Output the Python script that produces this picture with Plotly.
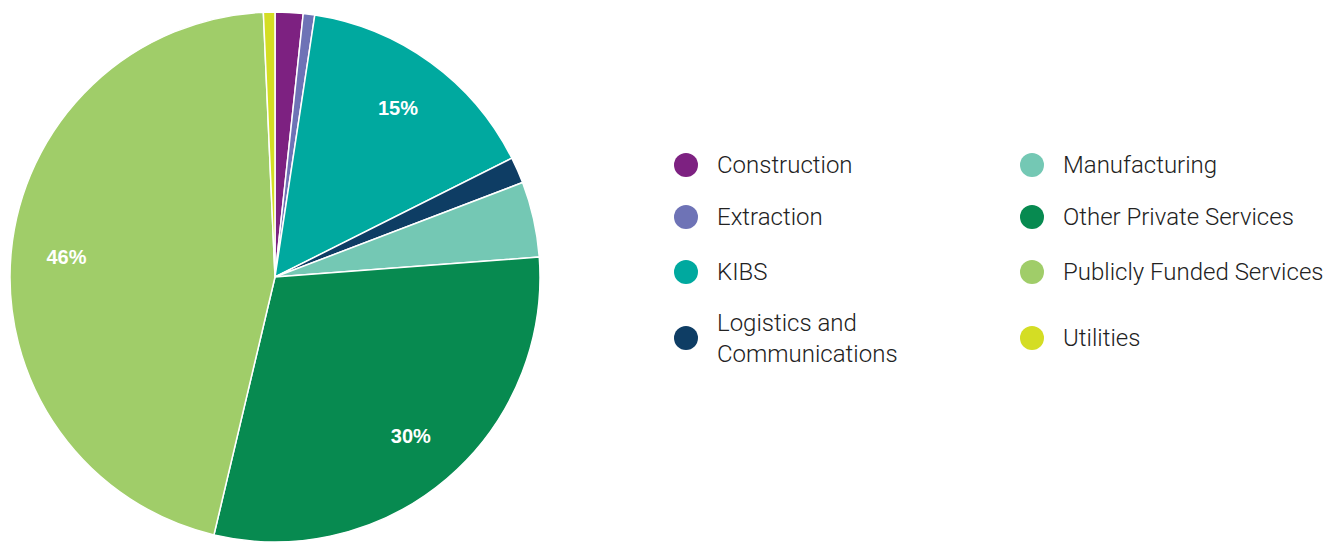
import plotly.graph_objects as go

# ---- data ----
categories = ["Construction", "Extraction", "KIBS", "Logistics and<br>Communications",
              "Manufacturing", "Other Private Services", "Publicly Funded Services", "Utilities"]
shares = [1.7, 0.7, 15.2, 1.6, 4.6, 29.9, 45.6, 0.7]
shown_labels = ["", "", "15%", "", "", "30%", "46%", ""]
colors = ["#7D2181", "#6E73B6", "#00A99F", "#0E3D64",
          "#74C8B4", "#078A50", "#A0CD69", "#D4DD24"]

# ---- layout constants (pixels, in figure coordinates; page adds 8px body margin) ----
W, H = 1343, 542
OFF = 8
pie_left, pie_right = 9 - OFF, 541 - OFF
m_top, m_bottom = 4, 8
legend_col_x = [686 - OFF, 1032 - OFF]
legend_row_y = [165 - OFF, 217 - OFF, 272 - OFF, 338 - OFF]
text_gap = 29

fig = go.Figure()

pie_common = dict(
    labels=categories,
    values=shares,
    sort=False,
    direction="clockwise",
    rotation=0,
    showlegend=False,
    hoverinfo="skip",
    domain=dict(x=[pie_left / W, pie_right / W], y=[0, 1]),
)

# coloured pie (no text)
fig.add_trace(go.Pie(
    **pie_common,
    textinfo="none",
    marker=dict(colors=colors, line=dict(color="white", width=1.5)),
))

# transparent ring carrying the percentage labels further out
fig.add_trace(go.Pie(
    **pie_common,
    hole=0.58,
    text=shown_labels,
    textinfo="text",
    textposition="inside",
    insidetextorientation="horizontal",
    textfont=dict(family="Liberation Sans", size=20, color="white", weight="bold"),
    marker=dict(colors=["rgba(0,0,0,0)"] * len(categories), line=dict(width=0)),
))

# custom legend with large circle markers
lx, ly = [], []
for i, cat in enumerate(categories):
    col, row = divmod(i, 4)
    lx.append(legend_col_x[col])
    ly.append(legend_row_y[row])

fig.add_trace(go.Scatter(
    x=lx, y=ly, mode="markers",
    marker=dict(size=24, color=colors, line=dict(width=0)),
    showlegend=False, hoverinfo="skip",
    xaxis="x", yaxis="y",
))

annotations = []
for i, cat in enumerate(categories):
    annotations.append(dict(
        x=lx[i] + text_gap, y=ly[i], xref="x", yref="y",
        text=cat, showarrow=False, xanchor="left", yanchor="middle", align="left",
        font=dict(family="Roboto", size=24, color="#222222", weight=300),
    ))

fig.update_layout(
    width=W, height=H,
    margin=dict(l=0, r=0, t=0, b=0),
    paper_bgcolor="white", plot_bgcolor="rgba(0,0,0,0)",
    xaxis=dict(range=[0, W], visible=False, fixedrange=True, domain=[0, 1]),
    yaxis=dict(range=[H, 0], visible=False, fixedrange=True, domain=[0, 1]),
    annotations=annotations,
    showlegend=False,
)
# pie vertical placement via domain (in paper fractions)
for tr in fig.data:
    if tr.type == "pie":
        tr.domain.y = [m_bottom / H, 1 - m_top / H]

fig.write_html("out.html", config={"displayModeBar": False})
